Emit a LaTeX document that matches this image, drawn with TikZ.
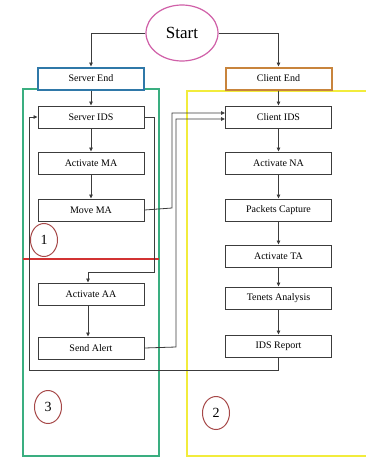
\documentclass[tikz,border=0pt]{standalone}
\usepackage{fontspec}
\setmainfont{Liberation Serif}
\usepackage{tikz}
\usetikzlibrary{arrows.meta, positioning, shapes.geometric}
\definecolor{startpink}  {HTML}{D060A8}
\definecolor{serverblue} {HTML}{2F78A8}
\definecolor{clientbrown}{HTML}{C8843C}
\definecolor{zonegreen}  {HTML}{3AAE80}
\definecolor{zoneyellow} {HTML}{F2EC3C}
\definecolor{splitred}   {HTML}{D23232}
\definecolor{markred}    {HTML}{A64848}
\definecolor{linegray}   {HTML}{3C3C3C}

\begin{document}
\begin{tikzpicture}[
    x=1pt, y=-1pt,
    node distance=23pt,
    box/.style={draw=linegray, line width=1pt, fill=white,
                minimum width=106pt, minimum height=22pt, inner sep=0pt,
                font=\fontsize{10}{12}\selectfont},
    endbox/.style={box, line width=2pt},
    marker/.style={draw=markred, line width=1pt, ellipse,
                   minimum width=27pt, minimum height=33pt, inner sep=0pt,
                   font=\fontsize{14}{16}\selectfont},
    arr/.style={-{Triangle[length=4pt, width=3.5pt]}, line width=0.8pt,
                color=linegray},
  ]
    \useasboundingbox (0,0) rectangle (365,461);

    % zones
    \draw[zonegreen, line width=1.8pt] (23,89) rectangle (159,456);
    \draw[zoneyellow, line width=1.8pt] (187,91) rectangle (367,456);
    \draw[splitred, line width=2pt] (23,259) -- (159,259);

    % start and the two ends
    \node[ellipse, draw=startpink, line width=1.2pt, fill=white,
          minimum width=72pt, minimum height=56pt, inner sep=0pt,
          font=\fontsize{17}{20}\selectfont] (start) at (182,33) {Start};
    \node[endbox, draw=serverblue] (srvend) at (91,78.5) {Server End};
    \node[endbox, draw=clientbrown] (cliend) at (278.5,78.5) {Client End};

    % server column
    \node[box] (srvids) at (91,117) {Server IDS};
    \node[box, below=of srvids] (actma) {Activate MA};
    \node[box, below=24pt of actma] (movema) {Move MA};
    \node[box] (actaa) at (91,294) {Activate AA};
    \node[box, below=31pt of actaa] (alert) {Send Alert};

    % client column
    \node[box] (cliids) at (278.5,117) {Client IDS};
    \node[box, below=of cliids] (actna) {Activate NA};
    \node[box, below=24pt of actna] (capture) {Packets Capture};
    \node[box, below=of capture] (actta) {Activate TA};
    \node[box, below=19pt of actta] (tenets) {Tenets Analysis};
    \node[box, below=25pt of tenets] (report) {IDS Report};

    % zone markers
    \node[marker] (m1) at (44,240) {1};
    \node[marker] (m2) at (216,413) {2};
    \node[marker] (m3) at (48,407) {3};

    % helper points for the long routes
    \coordinate (aaturn) at (88,272);
    \coordinate (loopin) at (29,117);

    % connectors
    \draw[arr] (start.west) -| (srvend.north);
    \draw[arr] (start.east) -| (cliend.north);
    \draw[arr] (srvend) -- (srvids);
    \draw[arr] (srvids) -- (actma);
    \draw[arr] (actma) -- (movema);
    \draw[arr] (srvids.east) -- ++(10,0) |- (aaturn) -- (actaa.north -| aaturn);
    \draw[arr] (actaa.south -| aaturn) -- (alert.north -| aaturn);
    \draw[arr] (movema.east) -- (172,208) |- ([yshift=4pt]cliids.west);
    \draw[arr] (alert.east) -- (176,347) |- ([yshift=-2pt]cliids.west);
    \draw[arr] (cliend) -- (cliids);
    \draw[arr] (cliids) -- (actna);
    \draw[arr] (actna) -- (capture);
    \draw[arr] (capture) -- (actta);
    \draw[arr] (actta) -- (tenets);
    \draw[arr] (tenets) -- (report);
    \draw[arr] (report.south) |- (29,370) -- (loopin) -- (srvids.west);
\end{tikzpicture}
\end{document}
